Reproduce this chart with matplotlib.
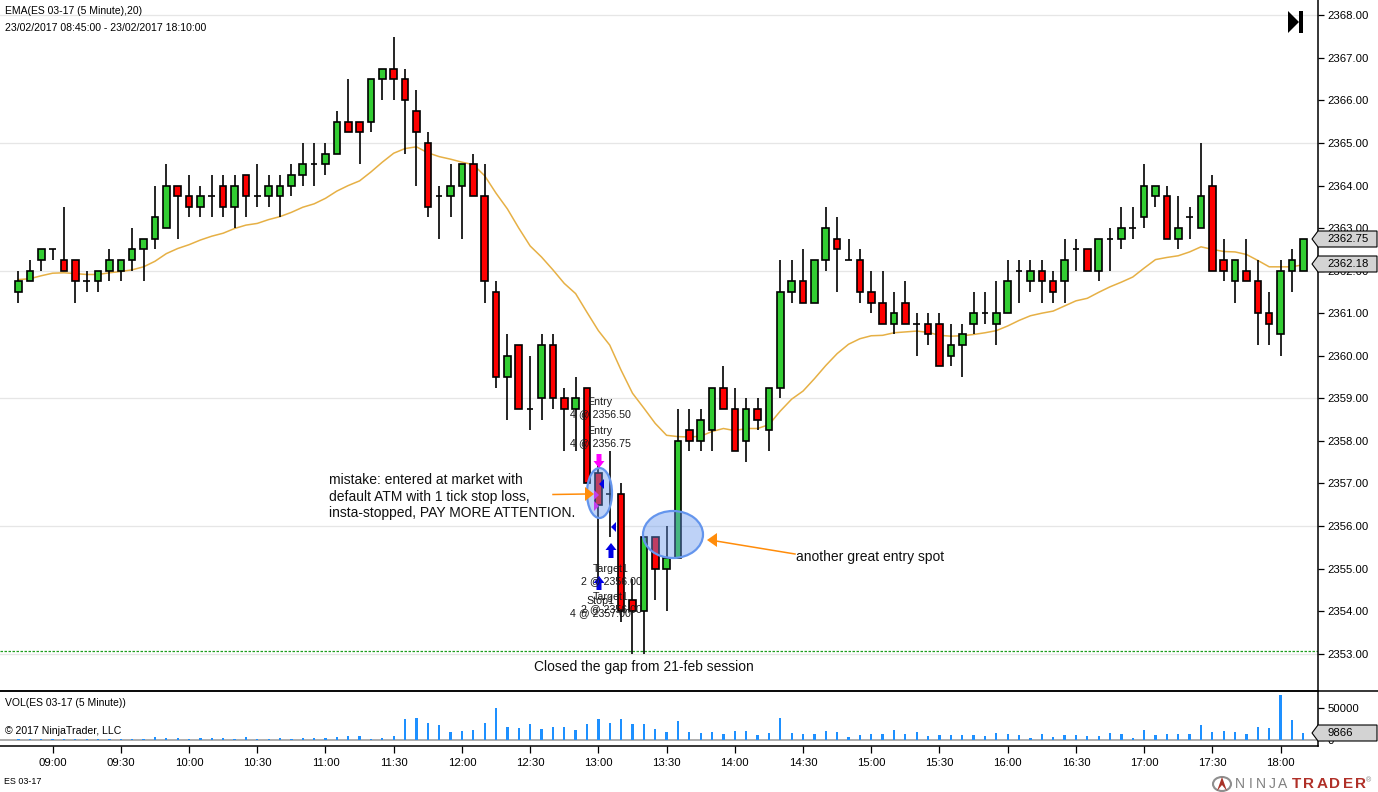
#!/usr/bin/env python3
"""ES 03-17 5 minute chart with EMA(20), volume pane and trade notes."""
import numpy as np
import matplotlib
matplotlib.use("Agg")
import matplotlib.pyplot as plt
from matplotlib.patches import Ellipse, Polygon

plt.rcParams["font.family"] = ["Liberation Sans", "DejaVu Sans"]

BAR_OPEN = [
    61.5, 61.75, 62.25, 62.5, 62.25, 62.25, 61.75, 61.75, 62, 62,
    62.25, 62.5, 62.75, 63, 64, 63.75, 63.5, 63.75, 64, 63.5,
    64.25, 63.75, 63.75, 63.75, 64, 64.25, 64.5, 64.5, 64.75, 65.5,
    65.5, 65.5, 66.5, 66.75, 66.5, 65.75, 65, 63.75, 63.75, 64,
    64.5, 63.75, 61.5, 59.5, 60.25, 58.75, 59, 60.25, 59, 58.75,
    59.25, 57.25, 56.75, 56.75, 54.25, 54, 55.75, 55, 55.25, 58.25,
    58, 58.25, 59.25, 58.75, 58, 58.75, 58.25, 59.25, 61.5, 61.75,
    61.25, 62.25, 62.75, 62.25, 62.25, 61.5, 61.25, 60.75, 61.25, 60.75,
    60.75, 60.75, 60, 60.25, 60.75, 61, 60.75, 61, 62, 61.75,
    62, 61.75, 61.75, 62.5, 62.5, 62, 62.75, 62.75, 63, 63.25,
    63.75, 63.75, 62.75, 63.25, 63, 64, 62.25, 61.75, 62, 61.75,
    61, 60.5, 62, 62,
]
BAR_CLOSE = [
    61.75, 62, 62.5, 62.5, 62, 61.75, 61.75, 62, 62.25, 62.25,
    62.5, 62.75, 63.25, 64, 63.75, 63.5, 63.75, 63.75, 63.5, 64,
    63.75, 63.75, 64, 64, 64.25, 64.5, 64.5, 64.75, 65.5, 65.25,
    65.25, 66.5, 66.75, 66.5, 66, 65.25, 63.5, 63.75, 64, 64.5,
    63.75, 61.75, 59.5, 60, 58.75, 58.75, 60.25, 59, 58.75, 59,
    57, 56.5, 56.75, 54, 54, 55.75, 55, 55.25, 58, 58,
    58.5, 59.25, 58.75, 57.75, 58.75, 58.5, 59.25, 61.5, 61.75, 61.25,
    62.25, 63, 62.5, 62.25, 61.5, 61.25, 60.75, 61, 60.75, 60.75,
    60.5, 59.75, 60.25, 60.5, 61, 61, 61, 61.75, 62, 62,
    61.75, 61.5, 62.25, 62.5, 62, 62.75, 62.75, 63, 63, 64,
    64, 62.75, 63, 63.25, 63.75, 62, 62, 62.25, 61.75, 61,
    60.75, 62, 62.25, 62.75,
]
BAR_HIGH = [
    62, 62.25, 62.5, 62.5, 63.5, 62.25, 62, 62, 62.5, 62.25,
    63, 62.75, 64, 64.5, 64, 64.25, 64, 64.25, 64.25, 64.25,
    64.25, 64.5, 64.25, 64.25, 64.5, 65, 65, 65, 65.75, 66.5,
    65.5, 66.5, 66.75, 67.5, 66.75, 66.25, 65.25, 64, 64.5, 64.5,
    64.75, 64.5, 61.75, 60.5, 60.25, 60, 60.5, 60.5, 59.25, 59.5,
    59.25, 57.5, 57.75, 57, 54.75, 55.75, 55.75, 56, 58.75, 58.75,
    58.75, 59.25, 59.75, 59.25, 59, 59, 59.25, 62.25, 62.25, 62.5,
    62.25, 63.5, 63.25, 62.75, 62.5, 62, 62, 61.5, 61.75, 61,
    61, 61, 60.75, 60.75, 61.5, 61.5, 61.75, 62.25, 62.25, 62.25,
    62.25, 62, 62.75, 62.75, 62.5, 62.75, 63, 63.5, 63.5, 64.5,
    64, 64, 63.75, 63.5, 65, 64.25, 62.75, 62.25, 62.75, 62.25,
    61.5, 62.25, 62.5, 62.75,
]
BAR_LOW = [
    61.25, 61.75, 62, 62.25, 62, 61.25, 61.5, 61.5, 61.75, 61.75,
    62, 61.75, 62.5, 63, 62.75, 63.25, 63.25, 63.25, 63.25, 63,
    63.25, 63.5, 63.5, 63.25, 63.75, 64, 64, 64.25, 64.75, 65.25,
    64.5, 65.25, 66, 66, 64.75, 64, 63.25, 62.75, 63.25, 62.75,
    63.75, 61.25, 59.25, 58.5, 58.75, 58.25, 58.5, 58.75, 57.75, 57.75,
    57, 54.75, 55.75, 53.75, 53, 53, 54.25, 54, 55.25, 57.75,
    57.75, 57.75, 58.75, 57.75, 57.5, 58.25, 57.75, 59, 61.25, 61.25,
    61.25, 62, 61.5, 62.25, 61.25, 61, 60.75, 60.5, 60.75, 60,
    60.25, 59.75, 59.75, 59.5, 60.5, 60.75, 60.25, 61, 61.25, 61.5,
    61.25, 61.25, 61.25, 62, 62, 61.75, 62, 62.5, 62.75, 63,
    63.5, 62.75, 62.5, 62.75, 63, 62, 61.75, 61.25, 61.75, 60.25,
    60.25, 60, 61.5, 62,
]
EMA_20 = [
    61.79, 61.81, 61.88, 61.94, 61.95, 61.93, 61.91, 61.91, 61.95, 61.98,
    62.02, 62.09, 62.22, 62.40, 62.52, 62.61, 62.72, 62.81, 62.88, 62.99,
    63.07, 63.11, 63.20, 63.27, 63.37, 63.49, 63.57, 63.70, 63.87, 64.00,
    64.11, 64.32, 64.55, 64.76, 64.87, 64.91, 64.77, 64.68, 64.62, 64.55,
    64.49, 64.23, 63.82, 63.45, 63.00, 62.58, 62.32, 62.02, 61.70, 61.46,
    61.02, 60.59, 60.25, 59.66, 59.12, 58.77, 58.41, 58.13, 58.10, 58.09,
    58.11, 58.22, 58.29, 58.24, 58.29, 58.29, 58.38, 58.70, 58.98, 59.17,
    59.46, 59.77, 60.05, 60.27, 60.40, 60.47, 60.48, 60.54, 60.56, 60.58,
    60.55, 60.48, 60.46, 60.47, 60.50, 60.54, 60.59, 60.70, 60.83, 60.94,
    61.00, 61.05, 61.17, 61.29, 61.35, 61.49, 61.62, 61.73, 61.85, 62.06,
    62.26, 62.31, 62.35, 62.44, 62.56, 62.50, 62.45, 62.44, 62.38, 62.24,
    62.09, 62.09, 62.09, 62.14,
]
VOLUME = [
    500, 500, 500, 500, 1600, 800, 500, 800, 500, 1100,
    1600, 1600, 3300, 2200, 2200, 1100, 2200, 2200, 2200, 1100,
    3300, 1100, 500, 2200, 1100, 2200, 2200, 2200, 3300, 4900,
    4900, 1100, 2200, 4900, 32600, 34200, 26100, 22800, 11400, 13000,
    14700, 26100, 50000, 19500, 17900, 24400, 16300, 19500, 19500, 14700,
    24400, 32600, 26100, 32600, 24400, 24400, 16300, 11400, 29300, 11400,
    10300, 11400, 8100, 13600, 13600, 7100, 10300, 34800, 10300, 8700,
    8700, 13600, 11900, 3800, 7100, 8700, 8700, 15200, 8700, 11900,
    5400, 7100, 7100, 7100, 7100, 5400, 10300, 8700, 7100, 2200,
    8700, 3800, 7100, 7100, 5400, 5400, 10300, 8700, 2200, 15200,
    7100, 8700, 8700, 8700, 22800, 11900, 13600, 11900, 8700, 20100,
    18500, 70600, 31500, 9866,
]
PRICE_BASE = 2300
PRICE_TICKS = list(range(2353, 2369))
GRID_PRICES = [2353, 2356, 2359, 2362, 2365, 2368]
GAP_PRICE = 2353.05
FIRST_BAR_MINUTE = 8 * 60 + 45
BAR_MINUTES = 5
TIME_LABELS = ["09:00", "09:30", "10:00", "10:30", "11:00", "11:30", "12:00",
               "12:30", "13:00", "13:30", "14:00", "14:30", "15:00", "15:30",
               "16:00", "16:30", "17:00", "17:30", "18:00"]

GREEN, RED = "#32cd32", "#ff0000"
EMA_COLOR = "#e6b045"
BLUE = "#0000e6"
MAGENTA = "#ff00ff"
VIOLET = "#c040f0"
ORANGE = "#ff8c0a"
W, H = 1378, 792


def bar_index(label):
    hh, mm = label.split(":")
    return (int(hh) * 60 + int(mm) - FIRST_BAR_MINUTE) / BAR_MINUTES


def tag(ov, y, label):
    # grey price marker on the right axis
    pts = [(1312, y), (1318, y - 8), (1377, y - 8), (1377, y + 8), (1318, y + 8)]
    ov.add_patch(Polygon(pts, closed=True, fc="#d3d3d3", ec="black", lw=0.8))
    ov.text(1327, y, label, fontsize=8.2, va="center", ha="left")


def up_arrow(ov, x, y0, y1, color):
    ov.add_patch(Polygon([(x, y0), (x + 5.5, y0 + 7), (x + 2.5, y0 + 7), (x + 2.5, y1),
                          (x - 2.5, y1), (x - 2.5, y0 + 7), (x - 5.5, y0 + 7)],
                         closed=True, fc=color, ec="none", zorder=4))


def down_arrow(ov, x, y0, y1, color):
    ov.add_patch(Polygon([(x, y1), (x + 5.5, y1 - 7), (x + 2.5, y1 - 7), (x + 2.5, y0),
                          (x - 2.5, y0), (x - 2.5, y1 - 7), (x - 5.5, y1 - 7)],
                         closed=True, fc=color, ec="none", zorder=4))


def triangle(ov, tip, base, y, half, color):
    ov.add_patch(Polygon([(tip, y), (base, y - half), (base, y + half)],
                         closed=True, fc=color, ec="none", zorder=4))


def spaced(ov, x, y, word, step, **kw):
    # the vendor mark has wide tracking, so set it letter by letter
    for i, ch in enumerate(word):
        ov.text(x + i * step, y, ch, ha="center", va="center", **kw)


def main():
    opens = np.array(BAR_OPEN) + PRICE_BASE
    closes = np.array(BAR_CLOSE) + PRICE_BASE
    highs = np.array(BAR_HIGH) + PRICE_BASE
    lows = np.array(BAR_LOW) + PRICE_BASE
    ema = np.array(EMA_20) + PRICE_BASE
    xs = np.arange(len(opens))
    xlim = (-18.5 / 11.37, (1318 - 18.5) / 11.37)

    fig = plt.figure(figsize=(W / 100, H / 100), dpi=100, facecolor="white")

    # ── price pane ───────────────────────────────────────────
    ax = fig.add_axes([0, (H - 691) / H, 1318 / W, 691 / H])
    ax.set_xlim(*xlim)
    ax.set_ylim(2365 - 548 / 42.55, 2365 + 143 / 42.55)
    for p in GRID_PRICES:
        ax.axhline(p, color="#e6e6e6", lw=0.9, zorder=0)
    ax.axhline(GAP_PRICE, color="#1f9e1f", lw=0.9, ls=(0, (2, 1.2)), zorder=1)
    ax.plot(xs, ema, color=EMA_COLOR, lw=1.1, zorder=2)
    ax.vlines(xs, lows, highs, color="black", lw=1.2, zorder=3)
    colors = [GREEN if c > o else RED for o, c in zip(opens, closes)]
    ax.bar(xs, np.abs(closes - opens), bottom=np.minimum(opens, closes),
           width=0.58, color=colors, edgecolor="black", lw=1.2, zorder=3)
    ax.set_xticks([])
    ax.yaxis.tick_right()
    ax.set_yticks(PRICE_TICKS)
    ax.set_yticklabels([f"{p:.2f}" for p in PRICE_TICKS], fontsize=8.2)
    ax.tick_params(axis="y", length=4, width=0.9, pad=3)
    for s in ["top", "left", "bottom"]:
        ax.spines[s].set_visible(False)
    ax.spines["right"].set_linewidth(1.1)

    # ── volume pane ──────────────────────────────────────────
    vx = fig.add_axes([0, (H - 746) / H, 1318 / W, 55 / H])
    vx.set_xlim(*xlim)
    vx.set_ylim(-10300, 77000)
    vx.axhline(0, color="#a0a0a0", lw=1.2, zorder=1)
    vx.bar(xs, VOLUME, width=0.2, color="#1e90ff", lw=0, zorder=2)
    vx.yaxis.tick_right()
    vx.set_yticks([0, 50000])
    vx.set_yticklabels(["0", "50000"], fontsize=8.2)
    vx.tick_params(axis="y", length=4, width=0.9, pad=3)
    vx.set_xticks([bar_index(t) for t in TIME_LABELS])
    vx.set_xticklabels(TIME_LABELS, fontsize=8.2)
    vx.tick_params(axis="x", length=5, width=0.9, pad=4)
    vx.spines["left"].set_visible(False)
    for s in ["top", "bottom", "right"]:
        vx.spines[s].set_linewidth(1.1)

    # ── overlay in image pixels for the drawing tools and notes ──
    ov = fig.add_axes([0, 0, 1, 1], facecolor="none")
    ov.set_xlim(0, W)
    ov.set_ylim(H, 0)
    ov.axis("off")
    ov.plot([0, W], [691, 691], color="black", lw=1.1)

    ov.text(5, 11, "EMA(ES 03-17 (5 Minute),20)", fontsize=7.5, va="center")
    ov.text(5, 28, "23/02/2017 08:45:00 - 23/02/2017 18:10:00", fontsize=7.6, va="center")
    ov.text(5, 703, "VOL(ES 03-17 (5 Minute))", fontsize=7.5, va="center")
    ov.text(5, 731, "\u00a9 2017 NinjaTrader, LLC", fontsize=7.6, va="center")
    ov.text(4, 782, "ES 03-17", fontsize=6.4, va="center")

    # jump-to-end button
    ov.add_patch(Polygon([(1288, 11), (1299, 22), (1288, 33)], closed=True, fc="black", ec="none"))
    ov.fill_between([1299, 1303], 11, 33, color="black", lw=0)

    tag(ov, 239, "2362.75")
    tag(ov, 264, "2362.18")
    tag(ov, 733, "9866")

    for c, wd, ht in [((599.5, 493), 25, 50), ((673, 534.5), 60, 47)]:
        ov.add_patch(Ellipse(c, wd, ht, fc="#6495ed", alpha=0.42, ec="none", zorder=3))
        ov.add_patch(Ellipse(c, wd, ht, fc="none", ec="#6495ed", lw=1.6, zorder=3))

    down_arrow(ov, 599, 454, 468, MAGENTA)
    up_arrow(ov, 611, 543, 558, BLUE)
    up_arrow(ov, 599, 576, 590, BLUE)
    triangle(ov, 599, 604, 484, 5, BLUE)
    triangle(ov, 611, 616, 527, 5, BLUE)
    triangle(ov, 599, 594, 495, 5, VIOLET)
    triangle(ov, 599, 594, 506, 5, VIOLET)

    ov.plot([553, 586], [494.5, 494], color=ORANGE, lw=1.1, zorder=4)
    triangle(ov, 594, 585, 494, 7, ORANGE)
    ov.plot([716, 795], [541, 554], color=ORANGE, lw=1.1, zorder=4)
    triangle(ov, 707, 717, 540, 7, ORANGE)

    small = dict(fontsize=7.7, ha="center", va="center", color="#1a1a1a", zorder=5)
    for x, y, s in [(600, 402, "Entry"), (600, 414, "4 @ 2356.50"),
                    (600, 431, "Entry"), (600, 443, "4 @ 2356.75"),
                    (611, 569, "Target1"), (611, 581, "2 @ 2356.00"),
                    (611, 597, "Target1"), (611, 609, "2 @ 2356.00"),
                    (600, 601, "Stop1"), (600, 613, "4 @ 2357.00")]:
        ov.text(x, y, s, **small)

    note = dict(fontsize=10, va="center", color="#111111", zorder=5)
    ov.text(329, 479.5, "mistake: entered at market with", **note)
    ov.text(329, 496.5, "default ATM with 1 tick stop loss,", **note)
    ov.text(329, 512.5, "insta-stopped, PAY MORE ATTENTION.", **note)
    ov.text(796, 556.5, "another great entry spot", **note)
    ov.text(534, 667.5, "Closed the gap from 21-feb session", **note)

    # vendor mark
    ov.add_patch(Ellipse((1222, 784), 18, 14, fc="none", ec="#8f8f8f", lw=1.5))
    ov.add_patch(Polygon([(1217, 791), (1222, 777), (1227, 791), (1222, 785)],
                         closed=True, fc="#a83228", ec="none"))
    spaced(ov, 1240, 784, "NINJA", 10.6, fontsize=10, color="#808080")
    spaced(ov, 1296, 784, "TRADER", 13, fontsize=11, color="#b03028", fontweight="bold")
    ov.text(1369, 781, "\u00ae", fontsize=5, color="#808080", ha="center", va="center")

    fig.savefig("out.png", dpi=100)
    plt.close(fig)


if __name__ == "__main__":
    main()
